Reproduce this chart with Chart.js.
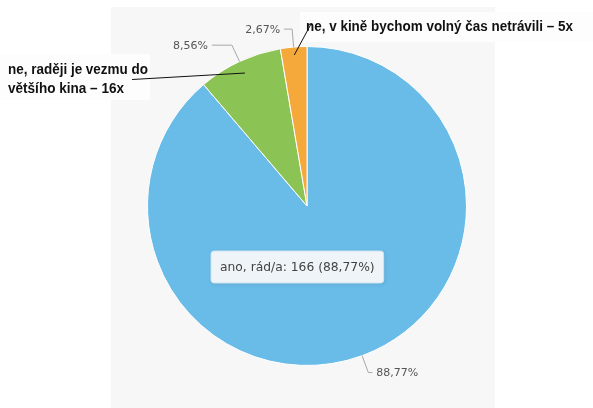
<!DOCTYPE html>
<html>
<head>
<meta charset="utf-8">
<script src="https://cdn.jsdelivr.net/npm/chart.js@4/dist/chart.umd.min.js"></script>
<style>
html,body{margin:0;padding:0;background:#fff;}
#wrap{width:593px;height:408px;position:relative;}
</style>
</head>
<body>
<div id="wrap"><canvas id="c" width="593" height="408"></canvas></div>
<script>
// ---- data ----
const categories = ["ano, rád/a", "ne, raději je vezmu do většího kina", "ne, v kině bychom volný čas netrávili"];
const counts = [166, 16, 5];
const sliceColors = ["#69bce8", "#8cc355", "#f5a93b"];
const calloutLines = [
  null,
  ["ne, raději je vezmu do", "většího kina \u2013 16x"],
  ["ne, v kině bychom volný čas netrávili \u2013 5x"]
];

const total = counts.reduce((a, b) => a + b, 0);
const pct = v => (v / total * 100).toFixed(2).replace('.', ',') + '%';

const connLen = [4, 20, 8];

const overlay = {
  id: 'overlay',
  beforeDraw(chart) {
    const ctx = chart.ctx;
    ctx.save();
    ctx.fillStyle = '#f7f7f7';
    ctx.fillRect(111, 7, 384, 401);
    ctx.restore();
  },
  afterDatasetsDraw(chart) {
    const ctx = chart.ctx;
    const arcs = chart.getDatasetMeta(0).data;
    ctx.save();
    // percentage labels with connectors
    arcs.forEach((arc, i) => {
      const p = arc.getProps(['x', 'y', 'startAngle', 'endAngle', 'outerRadius'], true);
      const mid = (p.startAngle + p.endAngle) / 2;
      const c = Math.cos(mid), s = Math.sin(mid);
      const r = p.outerRadius;
      const ex = p.x + c * r, ey = p.y + s * r;
      const bx = p.x + c * (r + 18), by = p.y + s * (r + 18);
      const dir = c >= 0 ? 1 : -1;
      const hx = bx + dir * connLen[i];
      ctx.strokeStyle = '#a8a8a8';
      ctx.lineWidth = 1;
      ctx.beginPath();
      ctx.moveTo(ex, ey);
      ctx.lineTo(bx, by);
      ctx.lineTo(hx, by);
      ctx.stroke();
      ctx.font = '11px "DejaVu Sans"';
      ctx.fillStyle = '#555';
      ctx.textBaseline = 'middle';
      ctx.textAlign = dir > 0 ? 'left' : 'right';
      ctx.fillText(pct(counts[i]), hx + dir * 4, by + 1);
    });

    // callout annotations
    const cx = arcs[0].x, cy = arcs[0].y;
    ctx.fillStyle = 'rgba(253,253,253,0.95)';
    ctx.fillRect(0, 54, 150, 46);
    ctx.fillRect(300, 12, 293, 30);

    ctx.fillStyle = '#111';
    ctx.textAlign = 'left';
    ctx.textBaseline = 'middle';
    ctx.font = 'bold 14.5px "Liberation Sans"';
    const l1 = calloutLines[1];
    ctx.fillText(l1[0], 8, 70, 140);
    ctx.fillText(l1[1], 8, 89, 116);
    const l2 = calloutLines[2];
    ctx.fillText(l2[0], 306, 27, 267);

    const pt = (i, f) => {
      const p = arcs[i].getProps(['x', 'y', 'startAngle', 'endAngle', 'outerRadius'], true);
      const mid = (p.startAngle + p.endAngle) / 2;
      return [p.x + Math.cos(mid) * p.outerRadius * f, p.y + Math.sin(mid) * p.outerRadius * f];
    };
    ctx.strokeStyle = '#111';
    ctx.lineWidth = 1;
    let a = pt(1, 0.92);
    ctx.beginPath(); ctx.moveTo(132, 79.5); ctx.lineTo(a[0], a[1]); ctx.stroke();
    a = pt(2, 0.95);
    ctx.beginPath(); ctx.moveTo(311, 24); ctx.lineTo(a[0], a[1]); ctx.stroke();

    // tooltip box
    const txt = categories[0] + ': ' + counts[0] + ' (' + pct(counts[0]) + ')';
    ctx.font = '12.3px "DejaVu Sans"';
    const w = ctx.measureText(txt).width + 18;
    const bx0 = cx - 96, by0 = cy + 45, bh = 32;
    ctx.shadowColor = 'rgba(0,0,0,0.12)';
    ctx.shadowBlur = 4;
    ctx.shadowOffsetX = 1;
    ctx.shadowOffsetY = 1;
    ctx.fillStyle = 'rgba(246,248,249,0.95)';
    ctx.beginPath();
    ctx.roundRect(bx0, by0, w, bh, 3);
    ctx.fill();
    ctx.shadowColor = 'transparent';
    ctx.strokeStyle = '#cfe3ef';
    ctx.stroke();
    ctx.fillStyle = '#444';
    ctx.textBaseline = 'middle';
    ctx.fillText(txt, bx0 + 9, by0 + bh / 2 + 1);
    ctx.restore();
  }
};

new Chart(document.getElementById('c'), {
  type: 'pie',
  data: {
    labels: categories,
    datasets: [{
      data: counts,
      backgroundColor: sliceColors,
      borderColor: '#ffffff',
      borderWidth: 1
    }]
  },
  options: {
    responsive: false,
    animation: false,
    events: [],
    layout: { padding: { left: 147, right: 126, top: 46, bottom: 42 } },
    plugins: { legend: { display: false }, tooltip: { enabled: false } }
  },
  plugins: [overlay]
});
</script>
</body>
</html>
